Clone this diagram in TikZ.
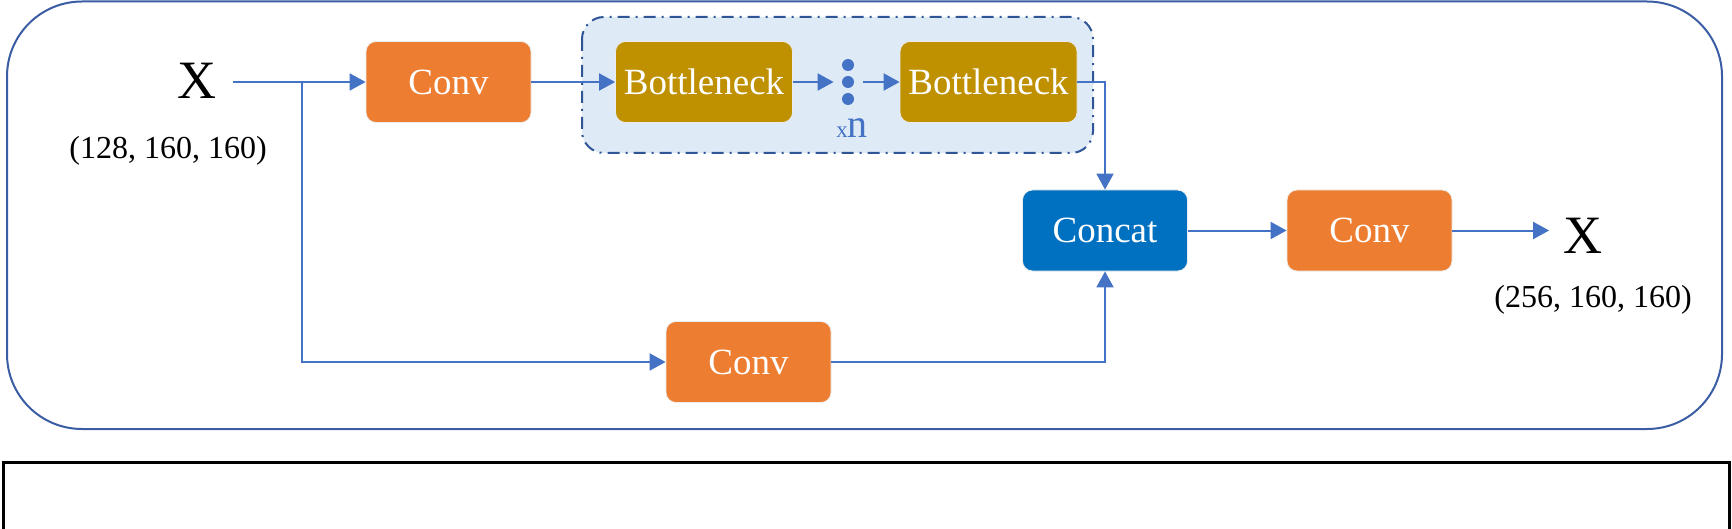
\documentclass[tikz,border=0pt]{standalone}
\usepackage{fontspec}
\setmainfont{Liberation Serif}
\usetikzlibrary{arrows.meta,calc}
\definecolor{convc}{HTML}{ED7D31}
\definecolor{bottc}{HTML}{BF9000}
\definecolor{catc}{HTML}{0070C0}
\definecolor{arrc}{HTML}{4472C4}
\definecolor{framec}{HTML}{3A5DA4}
\definecolor{grpfill}{HTML}{DEEAF6}
\definecolor{grpdraw}{HTML}{2F5597}
\tikzset{
  blk/.style={rectangle, rounded corners=5pt, minimum width=82.5pt, minimum height=40.5pt,
    inner sep=0pt, text=white, font=\fontsize{18.5}{20}\selectfont, draw=white!85!gray, line width=0.4pt},
  convbox/.style={blk, fill=convc},
  bottbox/.style={blk, fill=bottc, minimum width=88.5pt},
  catbox/.style={blk, fill=catc},
  arr/.style={draw=arrc, line width=1pt, -{Triangle[length=8pt,width=8.5pt]}},
  bigx/.style={font=\fontsize{27}{28}\selectfont, inner sep=0pt},
  dims/.style={font=\fontsize{16}{18}\selectfont, inner sep=0pt},
  dotn/.style={circle, fill=arrc, minimum size=6pt, inner sep=0pt},
}
\begin{document}
\begin{tikzpicture}[x=0.5pt,y=-0.5pt]
\useasboundingbox (0,0) rectangle (1732,529);
% outer frame
\draw[framec, line width=1pt, rounded corners=37.5pt] (7,1.5) rectangle (1722,429);
% bottom black box
\draw[black, line width=1.5pt] (3,462) rectangle (1729,560);
% group box
\draw[grpdraw, fill=grpfill, line width=1pt, rounded corners=11pt,
  dash pattern=on 6pt off 3pt on 1pt off 3pt] (582,17) rectangle (1093,153);
% nodes
\node[bigx] (xin) at (197,81) {X};
\node[dims] (xindim) at (168,151) {(128, 160, 160)};
\node[convbox] (c1) at (448.5,82) {Conv};
\node[bottbox] (b1) at (704,82) {Bottleneck};
\node[dotn] (d1) at (848,65) {};
\node[dotn] (d2) at (848,82) {};
\node[dotn] (d3) at (848,99) {};
\node[text=arrc, inner sep=0pt, anchor=base] (xn) at (852,138) {{\fontsize{11.5}{12}\selectfont x}{\fontsize{20}{22}\selectfont n}};
\node[bottbox] (b2) at (988.5,82) {Bottleneck};
\node[catbox] (cat) at (1105,230.5) {Concat};
\node[convbox] (c2) at (1369.5,230.5) {Conv};
\node[convbox] (c3) at (748.5,362) {Conv};
\node[bigx] (xout) at (1583,236) {X};
\node[dims] (xoutdim) at (1593,300) {(256, 160, 160)};
\coordinate (br) at (302,82);
% connectors
\draw[arr] ([xshift=8pt]xin.east |- c1.west) -- (c1.west);
\draw[arr] (br) |- (c3.west);
\draw[arr] (c1.east) -- (b1.west);
\draw[arr, shorten >=4pt] (b1.east) -- (d2.west);
\draw[arr, shorten <=4.5pt] (d2.east) -- (b2.west);
\draw[arr] (b2.east) -| (cat.north);
\draw[arr] (c3.east) -| (cat.south);
\draw[arr] (cat.east) -- (c2.west);
\draw[arr, shorten >=7pt] (c2.east) -- (c2.east -| xout.west);
\end{tikzpicture}
\end{document}
